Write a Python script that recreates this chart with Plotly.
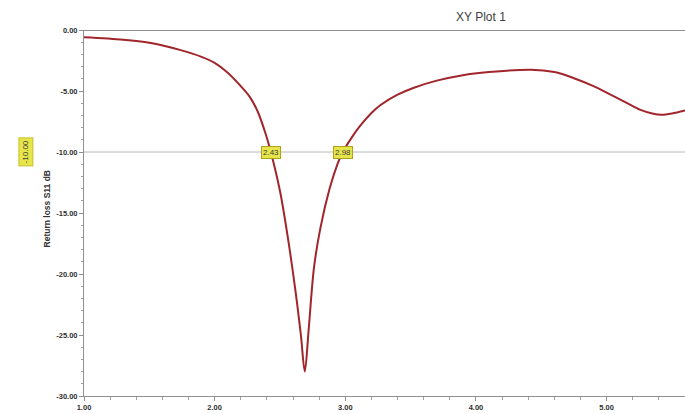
import plotly.graph_objects as go

freq = [1.00, 1.30, 1.50, 1.74, 1.90, 2.00, 2.10, 2.20, 2.27, 2.33, 2.39, 2.43, 2.50, 2.56, 2.62, 2.66, 2.69,
        2.72, 2.76, 2.81, 2.88, 2.94, 2.98, 3.05, 3.11, 3.20, 3.27, 3.40, 3.52, 3.70, 3.90, 4.10, 4.42,
        4.60, 4.75, 4.90, 5.03, 5.15, 5.26, 5.35, 5.42, 5.50, 5.60]
s11 = [-0.6, -0.8, -1.05, -1.65, -2.2, -2.7, -3.5, -4.6, -5.5, -6.7, -8.5, -10.0, -13.2, -17.0, -21.5, -25.0, -28.0,
       -24.5, -19.5, -16.2, -13.0, -11.0, -10.0, -8.8, -7.9, -6.8, -6.15, -5.3, -4.75, -4.15, -3.7, -3.45, -3.25,
       -3.45, -3.95, -4.6, -5.3, -5.95, -6.55, -6.85, -6.95, -6.85, -6.6]

marker_x = [2.43, 2.98]
marker_level = -10.0
x_ticks = [1.0, 2.0, 3.0, 4.0, 5.0]
y_ticks = [0, -5, -10, -15, -20, -25, -30]

fig = go.Figure()
fig.add_trace(go.Scatter(x=freq, y=s11, mode="lines",
                         line=dict(color="#a0262c", width=2, shape="spline", smoothing=0.9),
                         showlegend=False, hoverinfo="skip"))

# -10 dB marker line
fig.add_shape(type="line", xref="paper", x0=0, x1=1, yref="y", y0=marker_level, y1=marker_level,
              line=dict(color="#b8b8b8", width=1))

for mx in marker_x:
    fig.add_annotation(x=mx, y=marker_level, text=f"{mx:.2f}", showarrow=False,
                       bgcolor="#e6e64a", bordercolor="#b0a020", borderwidth=1, borderpad=1,
                       font=dict(size=8, color="#404040", family="Liberation Sans"))

fig.add_annotation(x=-0.11, xref="paper", y=marker_level, yref="y", text=f"{marker_level:.2f}",
                   showarrow=False, textangle=-90, bgcolor="#e6e64a", bordercolor="#c8c030",
                   borderwidth=1, borderpad=2, font=dict(size=8, color="#404040", family="Liberation Sans"))

fig.add_annotation(x=-0.073, xref="paper", y=0.51, yref="paper", text="<b>Return loss S11 dB</b>",
                   showarrow=False, textangle=-90,
                   font=dict(size=8.5, color="#303030", family="Liberation Sans"))

fig.add_annotation(x=0.705, xref="paper", y=1.06, yref="paper", text="XY Plot 1", showarrow=False,
                   font=dict(size=12, color="#404040", family="Liberation Sans"))

fig.update_xaxes(range=[1.0, 5.6], tickvals=x_ticks, ticktext=[f"<b>{v:.2f}</b>" for v in x_ticks],
                 showgrid=False, zeroline=False, showline=True, linecolor="#909090", linewidth=1,
                 ticks="outside", ticklen=4, tickcolor="#909090",
                 minor=dict(tickmode="linear", tick0=1.0, dtick=0.2, ticks="outside", ticklen=3,
                            tickcolor="#a0a0a0", showgrid=False),
                 tickfont=dict(size=7.5, color="#303030", family="Liberation Sans"))
fig.update_yaxes(range=[-30, 0], tickvals=y_ticks, ticktext=[f"<b>{v:.2f}</b>" for v in y_ticks],
                 showgrid=False, zeroline=False, showline=True, linecolor="#909090", linewidth=1,
                 ticks="outside", ticklen=4, tickcolor="#909090",
                 minor=dict(tickmode="linear", tick0=0, dtick=1, ticks="outside", ticklen=2,
                            tickcolor="#a0a0a0", showgrid=False),
                 tickfont=dict(size=7.5, color="#303030", family="Liberation Sans"))

fig.add_shape(type="line", xref="paper", x0=0, x1=1, yref="y", y0=0, y1=0,
              line=dict(color="#909090", width=2))

fig.update_layout(width=685, height=414, margin=dict(l=84, r=0, t=30, b=18),
                  plot_bgcolor="white", paper_bgcolor="white")

fig.write_html("out.html")
